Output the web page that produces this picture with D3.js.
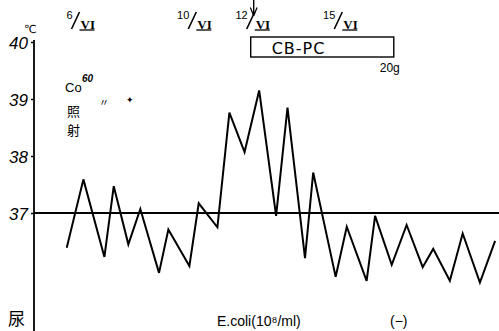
<!DOCTYPE html>
<html>
<head>
<meta charset="utf-8">
<script src="https://cdn.jsdelivr.net/npm/d3@7"></script>
<style>
  body { margin: 0; background: #fff; }
  svg { display: block; }
  text { fill: #000; }
</style>
</head>
<body>
<svg width="499" height="331"></svg>
<script>
// body temperature, twice a day (day of June)
var days = [5.70, 6.27, 6.99, 7.31, 7.81, 8.22, 8.86, 9.18, 9.90, 10.22,
            10.86, 11.27, 11.79, 12.29, 12.87, 13.26, 13.86, 14.14, 14.91, 15.29,
            15.97, 16.26, 16.83, 17.34, 17.89, 18.25, 18.82, 19.26, 19.85, 20.37];
var temps = [36.39, 37.59, 36.23, 37.47, 36.45, 37.07, 35.95, 36.71, 36.07, 37.17,
             36.75, 38.76, 38.07, 39.15, 36.95, 38.85, 36.21, 37.71, 35.88, 36.76,
             35.81, 36.95, 36.09, 36.79, 36.05, 36.37, 35.81, 36.64, 35.78, 36.51];

var tempTicks = [37, 38, 39, 40];
var dateDays = [6, 10, 12, 15];
var dateNums = ["6", "10", "12", "15"];
var dateMonth = "VI";

var cbpcStart = 12, cbpcEnd = 16.9, cbpcDose = "20g";

var svg = d3.select("svg");

var x = d3.scaleLinear().domain([6, 15]).range([75.5, 338.3]);
var y = d3.scaleLinear().domain([37, 40]).range([213, 42]);

var axisX = 34;

// y axis
var yAxis = svg.append("g")
    .attr("transform", "translate(" + axisX + ",0)")
    .call(d3.axisLeft(y).tickValues(tempTicks).tickSize(3).tickPadding(3)
          .tickFormat(d3.format("d")));
yAxis.select(".domain").remove();
yAxis.selectAll("line").attr("stroke", "#000").attr("stroke-width", 1.5);
yAxis.selectAll("text")
    .attr("font-family", "Liberation Sans, sans-serif")
    .attr("font-style", "italic")
    .attr("font-size", 17)
    .attr("dy", "0.36em");

svg.append("line")
    .attr("x1", axisX).attr("x2", axisX)
    .attr("y1", y(40) - 2).attr("y2", 331)
    .attr("stroke", "#000").attr("stroke-width", 1.8);

svg.append("text")
    .attr("x", 24).attr("y", 33)
    .attr("font-family", "DejaVu Sans, sans-serif")
    .attr("font-size", 11)
    .text("℃");

// 37 reference line
svg.append("line")
    .attr("x1", axisX).attr("x2", 499)
    .attr("y1", y(37)).attr("y2", y(37))
    .attr("stroke", "#000").attr("stroke-width", 2);

// temperature curve
var line = d3.line()
    .x(function(d, i) { return x(days[i]); })
    .y(function(d) { return y(d); });

svg.append("path")
    .datum(temps)
    .attr("d", line)
    .attr("fill", "none")
    .attr("stroke", "#000")
    .attr("stroke-width", 2)
    .attr("stroke-linejoin", "miter");

// date labels  n/VI
var dates = svg.append("g").selectAll("g")
    .data(dateDays)
    .enter().append("g")
    .attr("transform", function(d) { return "translate(" + x(d) + ",0)"; });

dates.append("text")
    .attr("x", -3).attr("y", 19)
    .attr("text-anchor", "end")
    .attr("font-family", "Liberation Sans, sans-serif")
    .attr("font-size", 11)
    .text(function(d, i) { return dateNums[i]; });

dates.append("line")
    .attr("x1", -4).attr("y1", 29)
    .attr("x2", 4).attr("y2", 12)
    .attr("stroke", "#000").attr("stroke-width", 1.6);

dates.append("text")
    .attr("x", 5).attr("y", 29)
    .attr("font-family", "Liberation Serif, serif")
    .attr("font-weight", "bold")
    .attr("font-size", 13)
    .text(dateMonth);

dates.append("line")
    .attr("x1", 4).attr("x2", 19)
    .attr("y1", 30).attr("y2", 30)
    .attr("stroke", "#000").attr("stroke-width", 1.3);

// start arrow
svg.append("defs").append("marker")
    .attr("id", "arrow")
    .attr("viewBox", "0 0 10 10")
    .attr("refX", 9).attr("refY", 5)
    .attr("markerWidth", 6).attr("markerHeight", 6)
    .attr("orient", "auto")
  .append("path")
    .attr("d", "M0,1 L10,5 L0,9")
    .attr("fill", "none")
    .attr("stroke", "#000")
    .attr("stroke-width", 1.5);

svg.append("line")
    .attr("x1", x(cbpcStart) + 3).attr("x2", x(cbpcStart) + 3)
    .attr("y1", 0).attr("y2", 15)
    .attr("stroke", "#000").attr("stroke-width", 1.4)
    .attr("marker-end", "url(#arrow)");

// CB-PC treatment box
svg.append("rect")
    .attr("x", x(cbpcStart)).attr("y", 37)
    .attr("width", x(cbpcEnd) - x(cbpcStart)).attr("height", 20)
    .attr("fill", "none")
    .attr("stroke", "#000").attr("stroke-width", 1.4);

svg.append("text")
    .attr("x", x(cbpcStart) + 21).attr("y", 54)
    .attr("font-family", "DejaVu Sans, sans-serif")
    .attr("font-size", 16)
    .attr("letter-spacing", 1)
    .text("CB-PC");

svg.append("text")
    .attr("x", x(cbpcEnd) - 14).attr("y", 72)
    .attr("font-family", "Liberation Sans, sans-serif")
    .attr("font-size", 12)
    .text(cbpcDose);

// Co60 irradiation note
svg.append("text")
    .attr("x", 65).attr("y", 92)
    .attr("font-family", "Liberation Sans, sans-serif")
    .attr("font-size", 13)
    .text("Co");
svg.append("text")
    .attr("x", 82).attr("y", 82)
    .attr("font-family", "Liberation Sans, sans-serif")
    .attr("font-weight", "bold")
    .attr("font-style", "italic")
    .attr("font-size", 10)
    .text("60");
svg.append("text")
    .attr("x", 99).attr("y", 106)
    .attr("font-family", "Noto Sans CJK JP, sans-serif")
    .attr("font-size", 10)
    .text("〃");
svg.append("text")
    .attr("x", 126).attr("y", 103)
    .attr("font-family", "DejaVu Sans, sans-serif")
    .attr("font-size", 9)
    .text("✦");
svg.append("text")
    .attr("x", 67).attr("y", 116)
    .attr("font-family", "Noto Sans CJK JP, sans-serif")
    .attr("font-size", 13)
    .text("照");
svg.append("text")
    .attr("x", 67).attr("y", 135)
    .attr("font-family", "Noto Sans CJK JP, sans-serif")
    .attr("font-size", 13)
    .text("射");

// urine culture row
svg.append("text")
    .attr("x", 8).attr("y", 325)
    .attr("font-family", "Noto Sans CJK JP, sans-serif")
    .attr("font-size", 17)
    .text("尿");
svg.append("text")
    .attr("x", 217).attr("y", 326)
    .attr("font-family", "Liberation Sans, sans-serif")
    .attr("font-size", 14)
    .text("E.coli(10⁸/ml)");
svg.append("text")
    .attr("x", 390).attr("y", 326)
    .attr("font-family", "Liberation Sans, sans-serif")
    .attr("font-size", 14)
    .text("(−)");
</script>
</body>
</html>
